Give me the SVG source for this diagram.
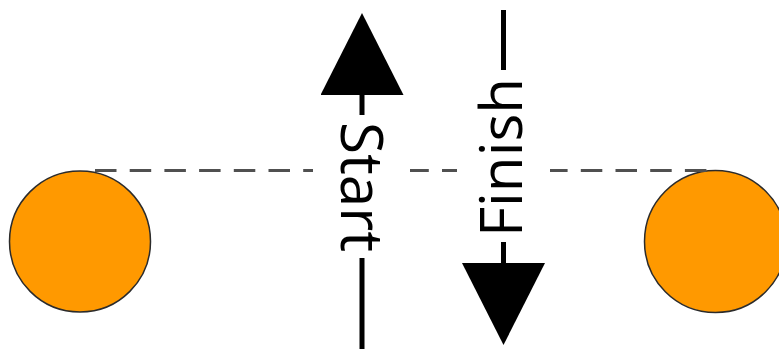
<svg xmlns="http://www.w3.org/2000/svg" width="779" height="349" viewBox="0 0 779 349">
  <style>
    .ball { fill: #FF9900; stroke: #2b2b2b; stroke-width: 1.5; }
    .guide { stroke: #505050; stroke-width: 3; stroke-dasharray: 21.5 13.2; fill: none; }
    .arrow { stroke: #000; stroke-width: 5; fill: none; marker-end: url(#head); }
    .lblbg { fill: #fff; stroke: none; }
    .lbl { font-family: "Open Sans", "Liberation Sans", sans-serif; font-size: 59px; fill: #000; }
  </style>
  <defs>
    <marker id="head" viewBox="0 0 82 83" markerWidth="82" markerHeight="83" refX="0" refY="41.5" orient="auto" markerUnits="userSpaceOnUse">
      <path d="M0,0 L82,41.5 L0,83 Z" fill="#000"/>
    </marker>
  </defs>
  <rect width="779" height="349" fill="#fff"/>
  <g id="ball-left">
    <circle class="ball" cx="80" cy="241.5" r="70.5"/>
  </g>
  <g id="ball-right">
    <circle class="ball" cx="715.5" cy="241.5" r="71"/>
  </g>
  <g id="connectors">
    <line class="guide" x1="95" y1="170.5" x2="714" y2="170.5"/>
    <path class="arrow" d="M362,349 V95"/>
    <path class="arrow" d="M503.5,10 V263"/>
  </g>
  <g id="label-start">
    <rect class="lblbg" x="313" y="115" width="97" height="143"/>
    <text class="lbl" transform="translate(341,122) rotate(90)" textLength="130" lengthAdjust="spacingAndGlyphs">Start</text>
  </g>
  <g id="label-finish">
    <rect class="lblbg" x="457" y="70" width="93" height="172"/>
    <text class="lbl" transform="translate(522,237) rotate(-90)" textLength="159" lengthAdjust="spacingAndGlyphs">Finish</text>
  </g>
</svg>
